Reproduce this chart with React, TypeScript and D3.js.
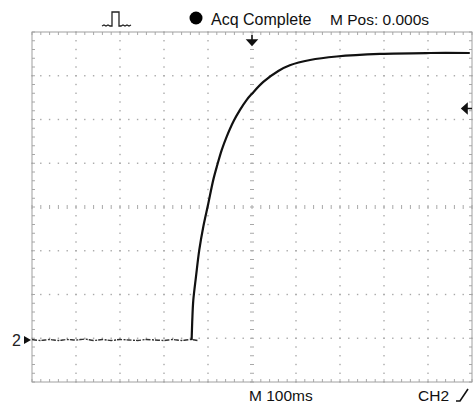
import { useMemo } from "react";
import * as d3 from "d3";

const WIDTH = 473;
const HEIGHT = 404;
const PLOT = { left: 32, top: 32, right: 472, bottom: 382 };

// time in ms (M 100ms/div, M Pos 0.000s at centre), level in divisions
const timeDivs = [-500, -400, -300, -200, -100, 0, 100, 200, 300, 400, 500];
const levelDivs = [-4, -3, -2, -1, 0, 1, 2, 3, 4];

const preTriggerTime = [
  -500, -480, -460, -440, -420, -400, -380, -360, -340, -320, -300, -280,
  -260, -240, -220, -200, -180, -160, -140, -124,
];
const preTriggerLevel = [
  -3.03, -3.05, -3.03, -3.05, -3.03, -3.04, -3.02, -3.05, -3.03, -3.05, -3.03,
  -3.04, -3.05, -3.03, -3.04, -3.05, -3.03, -3.05, -3.03, -3.05,
];

const riseTime = [
  -137.2, -136.8, -135.7, -133.4, -127.3, -119.8, -110.7, -99.3, -88, -78.9,
  -68.9, -57.5, -42.5, -27.3, -12, 0, 25.7, 59.8, 86, 132, 192.5, 291, 405, 495,
];
const riseLevel = [
  -3.04, -2.9, -2.58, -2.13, -1.59, -0.98, -0.45, 0.08, 0.62, 0.96, 1.3, 1.61,
  1.95, 2.22, 2.45, 2.59, 2.86, 3.11, 3.24, 3.36, 3.44, 3.5, 3.52, 3.52,
];

const groundLevel = -3.04;
const triggerLevel = 2.25;

const FONT = "'Liberation Sans', Arial, sans-serif";

const App = () => {
  const x = useMemo(
    () => d3.scaleLinear().domain([-500, 500]).range([PLOT.left, PLOT.right]),
    []
  );
  const y = useMemo(
    () => d3.scaleLinear().domain([-4, 4]).range([PLOT.bottom, PLOT.top]),
    []
  );

  const line = (curve: d3.CurveFactory) =>
    d3
      .line<[number, number]>()
      .x((d) => x(d[0]))
      .y((d) => y(d[1]))
      .curve(curve);

  const pre = preTriggerTime.map((t, i) => [t, preTriggerLevel[i]] as [number, number]);
  const rise = riseTime.map((t, i) => [t, riseLevel[i]] as [number, number]);

  const minorT = d3.range(-500, 500.01, 20);
  const minorV = d3.range(-4, 4.01, 0.2);

  const gridColor = "#a8a8a8";

  return (
    <svg
      width={WIDTH}
      height={HEIGHT}
      style={{ position: "absolute", left: 0, top: 0, background: "#fff" }}
    >
      {/* dotted graticule */}
      <g fill={gridColor}>
        {timeDivs.slice(1, -1).filter((t) => t !== 0).map((t) =>
          minorV.map((v) => (
            <rect key={`v${t}_${v}`} x={x(t) - 0.7} y={y(v) - 0.7} width={1.4} height={1.4} />
          ))
        )}
        {levelDivs.slice(1, -1).filter((v) => v !== 0).map((v) =>
          minorT.map((t) => (
            <rect key={`h${v}_${t}`} x={x(t) - 0.7} y={y(v) - 0.7} width={1.4} height={1.4} />
          ))
        )}
      </g>
      {/* centre axes with minor ticks */}
      <g stroke={gridColor} strokeWidth={1}>
        {minorV.map((v) => (
          <line key={`cv${v}`} x1={x(0) - 2} x2={x(0) + 2} y1={y(v)} y2={y(v)} />
        ))}
        {minorT.map((t) => (
          <line key={`ch${t}`} x1={x(t)} x2={x(t)} y1={y(0) - 2} y2={y(0) + 2} />
        ))}
        {/* border ticks */}
        {minorT.map((t) => (
          <g key={`bt${t}`}>
            <line x1={x(t)} x2={x(t)} y1={PLOT.top} y2={PLOT.top + 3} />
            <line x1={x(t)} x2={x(t)} y1={PLOT.bottom} y2={PLOT.bottom - 3} />
          </g>
        ))}
        {minorV.map((v) => (
          <g key={`bl${v}`}>
            <line x1={PLOT.left} x2={PLOT.left + 3} y1={y(v)} y2={y(v)} />
            <line x1={PLOT.right} x2={PLOT.right - 3} y1={y(v)} y2={y(v)} />
          </g>
        ))}
      </g>
      <rect
        x={PLOT.left}
        y={PLOT.top}
        width={PLOT.right - PLOT.left}
        height={PLOT.bottom - PLOT.top}
        fill="none"
        stroke="#a0a0a0"
        strokeWidth={1}
      />

      {/* trace */}
      <path
        d={line(d3.curveMonotoneX)(pre) ?? ""}
        fill="none"
        stroke="#333"
        strokeWidth={1.4}
        strokeDasharray="5 1.5 2 1"
      />
      <path
        d={line(d3.curveCatmullRom.alpha(0.5))(rise) ?? ""}
        fill="none"
        stroke="#111"
        strokeWidth={2.2}
      />

      {/* ground marker */}
      <text x={12} y={y(groundLevel) + 6} fontFamily={FONT} fontSize={16} fill="#222">
        2
      </text>
      <path
        d={`M${24},${y(groundLevel) - 4} L${31},${y(groundLevel)} L${24},${y(groundLevel) + 4} Z`}
        fill="#111"
      />

      {/* trigger position arrow */}
      <path
        d={`M${x(0)},${PLOT.top + 3} V${PLOT.top + 9} M${x(0) - 4.5},${PLOT.top + 8} L${x(0) + 4.5},${PLOT.top + 8} L${x(0)},${PLOT.top + 13} Z`}
        fill="#111"
        stroke="#111"
        strokeWidth={1.6}
      />

      {/* trigger level arrow */}
      <path
        d={`M${PLOT.right},${y(triggerLevel)} H${PLOT.right - 6} M${PLOT.right - 5},${y(triggerLevel) - 4.5} L${PLOT.right - 5},${y(triggerLevel) + 4.5} L${PLOT.right - 10},${y(triggerLevel)} Z`}
        fill="#111"
        stroke="#111"
        strokeWidth={1.6}
      />

      {/* header */}
      <path
        d="M102,26 l2,-1 l2,1 l2,-1 l2,1 l2,0 V12 h7 V26 l2,0 l2,-1 l2,1 l2,-1 l2,1 l2,-1"
        fill="none"
        stroke="#222"
        strokeWidth={1.3}
      />
      <circle cx={196} cy={18} r={6.5} fill="#000" />
      <text x={211} y={25} fontFamily={FONT} fontSize={16} fill="#111">
        Acq Complete
      </text>
      <text x={330} y={25} fontFamily={FONT} fontSize={15.5} fill="#111">
        M Pos: 0.000s
      </text>

      {/* footer */}
      <text x={249} y={401} fontFamily={FONT} fontSize={15.5} fill="#111">
        M 100ms
      </text>
      <text x={418} y={401} fontFamily={FONT} fontSize={15.5} fill="#111">
        CH2
      </text>
      <path d="M456,401 h4 l8,-12" fill="none" stroke="#111" strokeWidth={1.6} />
    </svg>
  );
};

export default App;
